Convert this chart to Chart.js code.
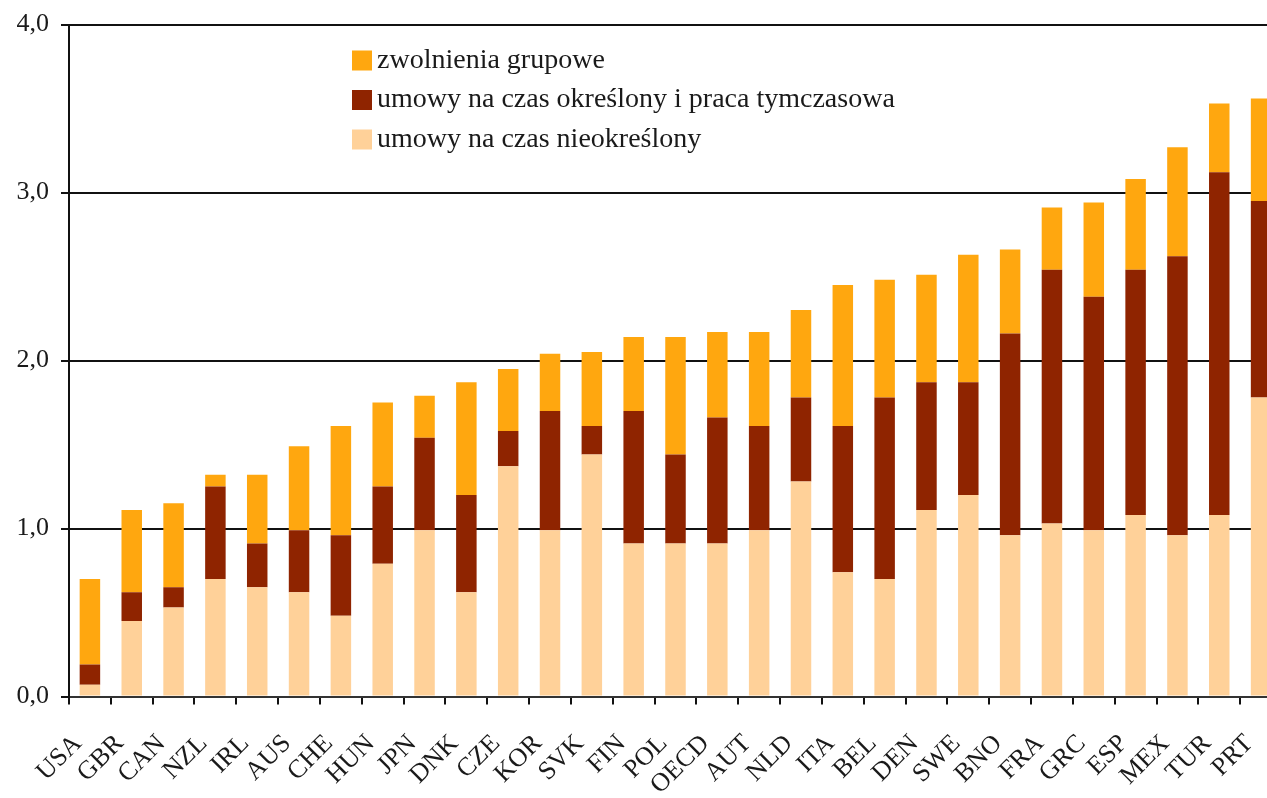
<!DOCTYPE html>
<html lang="pl">
<head>
<meta charset="utf-8">
<script src="https://cdn.jsdelivr.net/npm/chart.js@4"></script>
<style>
    html, body { margin: 0; padding: 0; background: #ffffff; overflow: hidden; }
    #wrap { position: absolute; left: 0; top: 0; width: 1282px; height: 798px; }
</style>
</head>
<body>
<div id="wrap"><canvas id="chart" width="1282" height="798"></canvas></div>
<script>
// Data (segment values, stacked bottom to top)
const categories = ['USA', 'GBR', 'CAN', 'NZL', 'IRL', 'AUS', 'CHE', 'HUN', 'JPN', 'DNK', 'CZE', 'KOR', 'SVK', 'FIN', 'POL', 'OECD', 'AUT', 'NLD', 'ITA', 'BEL', 'DEN', 'SWE', 'BNO', 'FRA', 'GRC', 'ESP', 'MEX', 'TUR', 'PRT'];

const nieokreslony = [0.07, 0.45, 0.53, 0.70, 0.65, 0.62, 0.48, 0.79, 0.99, 0.62, 1.37, 0.99, 1.44, 0.91, 0.91, 0.91, 0.99, 1.28, 0.74, 0.70, 1.11, 1.20, 0.96, 1.03, 0.99, 1.08, 0.96, 1.08, 1.78];
const okreslony = [0.12, 0.17, 0.12, 0.55, 0.26, 0.37, 0.48, 0.46, 0.55, 0.58, 0.21, 0.71, 0.17, 0.79, 0.53, 0.75, 0.62, 0.50, 0.87, 1.08, 0.76, 0.67, 1.20, 1.51, 1.39, 1.46, 1.66, 2.04, 1.17];
const grupowe = [0.51, 0.49, 0.50, 0.07, 0.41, 0.50, 0.65, 0.50, 0.25, 0.67, 0.37, 0.34, 0.44, 0.44, 0.70, 0.51, 0.56, 0.52, 0.84, 0.70, 0.64, 0.76, 0.50, 0.37, 0.56, 0.54, 0.65, 0.41, 0.61];

const yTicks = [0, 1, 2, 3, 4];

const labels = {
    nieokreslony: 'umowy na czas nieokreślony',
    okreslony: 'umowy na czas określony i praca tymczasowa',
    grupowe: 'zwolnienia grupowe',
};

const colors = ['#FFD199', '#8F2400', '#FFA70F'];
const fontFamily = '"Liberation Serif", "Times New Roman", serif';
const textColor = '#1a1a1a';

// Legend drawn inside the plot, top series first
const insideLegend = {
    id: 'insideLegend',
    afterDraw(chart) {
        const ctx = chart.ctx;
        const area = chart.chartArea;
        const sets = chart.data.datasets.slice().reverse();
        ctx.save();
        ctx.font = '28px ' + fontFamily;
        ctx.textBaseline = 'middle';
        ctx.textAlign = 'left';
        sets.forEach((ds, i) => {
            const y = area.top + 36 + i * 39.5;
            const x = area.left + 283;
            ctx.fillStyle = ds.backgroundColor;
            ctx.fillRect(x, y - 10, 20, 20);
            ctx.fillStyle = textColor;
            ctx.fillText(ds.label, x + 25, y);
        });
        ctx.restore();
    },
};

new Chart(document.getElementById('chart'), {
    type: 'bar',
    data: {
        labels: categories,
        datasets: [
            { label: labels.nieokreslony, data: nieokreslony, backgroundColor: colors[0] },
            { label: labels.okreslony, data: okreslony, backgroundColor: colors[1] },
            { label: labels.grupowe, data: grupowe, backgroundColor: colors[2] },
        ],
    },
    options: {
        responsive: false,
        animation: false,
        devicePixelRatio: 1,
        layout: {
            padding: { top: 24.5, right: 0, bottom: 0, left: 0 },
        },
        datasets: {
            bar: {
                categoryPercentage: 1,
                barPercentage: 0.49,
                borderWidth: 0,
            },
        },
        scales: {
            x: {
                stacked: true,
                afterFit: (scale) => {
                    scale.height = 101.5;
                    scale.paddingLeft = 0;
                    scale.paddingRight = 0;
                },
                border: { display: true, color: '#333333', width: 2 },
                grid: {
                    offset: true,
                    drawOnChartArea: false,
                    drawTicks: true,
                    tickLength: 8,
                    color: '#111111',
                    lineWidth: 2,
                },
                ticks: {
                    autoSkip: false,
                    maxRotation: 45,
                    minRotation: 45,
                    padding: 24,
                    labelOffset: -12,
                    color: textColor,
                    font: { family: fontFamily, size: 26 },
                },
            },
            y: {
                stacked: true,
                min: 0,
                max: 4,
                afterFit: (scale) => {
                    scale.width = 69;
                    scale.paddingTop = 0;
                    scale.paddingBottom = 0;
                },
                afterBuildTicks: (scale) => {
                    scale.ticks = yTicks.map((v) => ({ value: v }));
                },
                border: { display: true, color: '#111111', width: 2 },
                grid: {
                    color: '#111111',
                    lineWidth: 2,
                    tickLength: 8,
                },
                ticks: {
                    padding: 12,
                    color: textColor,
                    font: { family: fontFamily, size: 26 },
                    callback: (value) => value.toFixed(1).replace('.', ','),
                },
            },
        },
        plugins: {
            legend: { display: false },
            tooltip: { enabled: false },
        },
    },
    plugins: [insideLegend],
});
</script>
</body>
</html>
